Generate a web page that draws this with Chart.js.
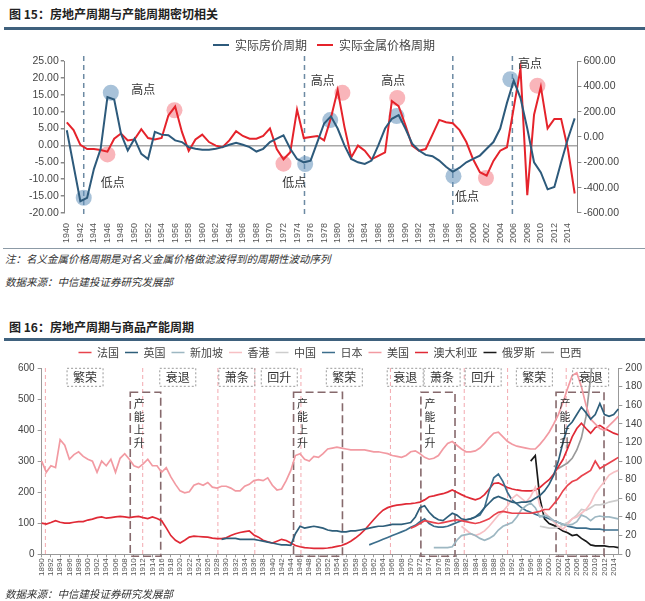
<!DOCTYPE html>
<html>
<head>
<meta charset="utf-8">
<script src="https://cdn.jsdelivr.net/npm/chart.js@4.4.1/dist/chart.umd.min.js"></script>
<style>
  body { margin: 0; width: 645px; height: 601px; background: #fff; position: relative; overflow: hidden;
         font-family: "Noto Sans CJK SC", "Liberation Sans", sans-serif; color: #222; }
  .t { position: absolute; left: 9px; font-size: 12px; font-weight: bold; line-height: 14px; white-space: nowrap; }
  .bar { position: absolute; left: 4px; width: 641px; height: 3px; background: #3f617d; }
  .n { position: absolute; left: 5px; font-size: 10.5px; font-style: italic; color: #333; line-height: 13px; white-space: nowrap; }
  .sep { position: absolute; left: 3px; width: 642px; height: 1px; background: #8c9aa6; }
  canvas { position: absolute; left: 0; }
</style>
</head>
<body>
<div class="t" style="top:7px">图 15：房地产周期与产能周期密切相关</div>
<div class="bar" style="top:27px"></div>
<canvas id="c1" width="645" height="218" style="top:29px"></canvas>
<div class="sep" style="top:248px"></div>
<div class="n" style="top:252px">注：名义金属价格周期是对名义金属价格做滤波得到的周期性波动序列</div>
<div class="n" style="top:275px">数据来源：中信建投证券研究发展部</div>
<div class="t" style="top:320px">图 16：房地产周期与商品产能周期</div>
<div class="bar" style="top:338px"></div>
<canvas id="c2" width="645" height="246" style="top:341px"></canvas>
<div class="n" style="top:587px">数据来源：中信建投证券研究发展部</div>

<script>
// ---------- 图15 数据 ----------
const firstYear1 = 1940;
// 实际房价周期 (左轴), 1940-2015
const housePrice = [
  4.5, -6, -16.5, -15.5, -7, -1, 14.3, 13.6, 3.5, -1.5,
  2, -2.5, -4, 4, 3.2, 3, 1.5, 1, -0.5, -1,
  -1.3, -1.3, -1, -0.5, 0.2, 0.8, 0.2, -0.5, -1.8, -1,
  1, 2, 3, -1, -4, -5, -4.5, 1, 6.5, 8.6,
  5, 0, -4, -5, -5.5, -4.5, 0, 5, 7.9, 9,
  5, 0.5, -1.5, -2.8, -3.2, -4.5, -6.3, -7.8, -6.6, -5,
  -4, -3, -1, 1, 5, 12.6, 19.2, 14, 5, -5,
  -8, -13, -12.3, -5, 2, 8
];
// 实际金属价格周期 (右轴), 1940-2015
const metalPrice = [
  116, 54, -62, -95, -95, -103, -116, -14, 27, -27,
  -19, 62, -8, -19, -8, 170, 240, 40, -110, -20,
  19, -40, -68, -81, -27, 46, 8, -14, -14, 8,
  68, -95, -176, -120, 216, -8, 0, 8, -27, 150,
  370, 80, -162, -68, -108, -176, -149, -122, 284, 243,
  95, -68, -108, -95, 19, 135, 116, 108, 54, -40,
  -176, -278, -305, -189, -108, -81, 230, 540, -459, 176,
  397, 68, 143, 143, -95, -446
];
// 高低点标记
const houseMarks = [[1942.5, -15.5], [1946.5, 15.6], [1975.2, -5.5], [1978.9, 7.5], [1988.7, 8.7], [1997.1, -9.1], [2005.5, 19.6]];
const metalMarks = [[1946.0, -138], [1955.9, 211], [1972.0, -211], [1980.7, 349], [1988.8, 308], [2001.9, -324], [2009.5, 405]];
const turnLines1 = [1942.5, 1975.1, 1997.0, 2005.8];
const turnNotes1 = [['高点', 1951.3, 16.5], ['低点', 1946.8, -10.9], ['高点', 1977.8, 19.3], ['低点', 1973.6, -10.9],
                    ['高点', 1988.2, 19.3], ['低点', 1999.1, -15.2], ['高点', 2008.4, 24.4]];

// ---------- 图16 数据 ----------
const firstYear2 = 1890;
const years2 = [];
for (let y = firstYear2; y <= 2015; y++) years2.push(String(y));

const france = [ // 法国, 1970-
  28, 30, 33, 36, 35, 34, 33, 34, 35, 36,
  37, 36, 35, 34, 33, 34, 36, 38, 42, 45,
  46, 45, 44, 44, 44, 44, 44, 45, 46, 48,
  48, 54, 60, 68, 74, 78, 80, 84, 87, 90,
  100, 92, 95, 98, 101, 104
];
const uk = [ // 英国, 1929-
  16,
  17, 17, 17, 16, 16, 16, 16, 15, 14, 13,
  12, 11, 10, 10, 9.5, 22, 30, 28, 29, 30,
  29, 28, 26, 25, 25, 24, 24, 25, 25, 26,
  27, 28, 29, 30, 30, 31, 32, 32, 32, 33,
  34, 40, 50, 52, 45, 40, 37, 36, 40, 44,
  42, 38, 37, 38, 40, 44, 50, 55, 60, 62,
  60, 58, 56, 55, 56, 56, 57, 60, 63, 68,
  75, 85, 100, 120, 137, 142, 150, 158, 152, 145,
  150, 162, 150, 148, 150, 156
];
const singapore = [ // 新加坡, 1975-
  7, 7, 7, 7, 8,
  15, 20, 21, 22, 20, 17, 15, 17, 20, 26,
  30, 32, 34, 40, 48, 52, 55, 50, 40, 42,
  40, 36, 34, 32, 31, 32, 35, 42, 40, 36,
  40, 41, 40, 40, 39, 38
];
const hongkong = [ // 香港, 1981-
  30, 26, 22, 20, 22, 25, 30, 36, 42,
  46, 52, 60, 64, 60, 56, 62, 72, 52, 45,
  40, 35, 30, 27, 32, 38, 40, 44, 48, 55,
  65, 72, 78, 85, 88, 90
];
const china = [ // 中国, 1998-
  30, 29, 28, 28, 29, 31, 34, 38, 42, 48, 47, 50, 53, 53, 54, 56, 57, 58
];
const japan = [ // 日本, 1961-
  10, 12, 14, 16, 18, 20, 22, 24, 26,
  29, 31, 35, 38, 33, 30, 29, 29, 30, 32,
  34, 36, 37, 38, 40, 42, 50, 68, 82, 86,
  78, 66, 58, 54, 50, 47, 45, 43, 41, 40,
  38, 36, 34, 32, 30, 29, 28, 28, 28, 27,
  27, 27, 26, 26, 26, 26
];
const usa = [ // 美国, 1890-
  100, 88, 95, 93, 123, 117, 102, 107, 110, 105,
  102, 100, 88, 100, 95, 102, 88, 103, 108, 102,
  95, 93, 97, 102, 95, 95, 88, 93, 83, 75,
  68, 66, 67, 74, 76, 74, 77, 72, 71, 73,
  73, 71, 68, 68, 73, 75, 79, 80, 79, 82,
  74, 69, 70, 79, 90, 106, 108, 102, 100, 105,
  104, 108, 113, 114, 115, 114, 113, 112, 112, 112,
  112, 111, 110, 110, 109, 108, 106, 105, 104, 106,
  110, 111, 108, 104, 102, 103, 106, 113, 119, 121,
  117, 113, 110, 110, 111, 114, 119, 125, 130, 131,
  126, 121, 118, 116, 115, 114, 113, 113, 118, 124,
  131, 140, 150, 163, 178, 192, 195, 180, 160, 145,
  140, 135, 133, 138, 143, 148
];
const australia = [ // 澳大利亚, 1890- (左轴)
  100, 97, 102, 108, 103, 100, 100, 103, 105, 105,
  110, 113, 118, 120, 116, 118, 120, 122, 120, 118,
  120, 122, 118, 115, 120, 115, 108, 85, 60, 45,
  36, 45, 55, 58, 57, 56, 55, 52, 50, 50,
  53, 60, 66, 70, 73, 75, 62, 55, 45, 40,
  36, 42, 48, 44, 36, 28, 24, 21, 20, 19,
  19, 19, 20, 22, 25, 28, 34, 42, 52, 64,
  78, 95, 112, 128, 142, 150, 155, 158, 160, 162,
  163, 165, 168, 175, 185, 188, 192, 195, 200, 207,
  200, 192, 185, 180, 175, 180, 192, 210, 228, 230,
  222, 215, 210, 207, 205, 204, 204, 206, 215, 228,
  240, 258, 282, 305, 340, 378, 405, 422, 405, 390,
  408, 415, 405, 398, 390, 385
];
const russia = [ // 俄罗斯, 1996-
  100, 106, 60, 38, 33, 31, 28, 25, 23, 20, 21, 17, 14, 10, 9, 9, 9, 8, 8, 7
];
const brazil = [ // 巴西, 2001-
  95, 92, 95, 98, 103, 112, 125, 148, 190, 240
];

const cycleLines2 = [1890.8, 1911.9, 1928.2, 1936.2, 1946.2, 1965.6, 1981.6, 1991.0, 2003.7];
const capacityBoxes = [[1909.2, 1915.8], [1944.6, 1955.2], [1972.2, 1979.6], [2001.5, 2011.9]];
const phaseNames = ['繁荣', '衰退', '萧条', '回升', '繁荣', '衰退', '萧条', '回升', '繁荣', '衰退'];
const phaseYears = [1899.4, 1919.5, 1932.3, 1941.5, 1955.6, 1968.8, 1976.8, 1985.7, 1996.8, 2009.0];

function fill(start, arr) {
  const out = years2.map(() => null);
  arr.forEach((v, i) => { out[start - firstYear2 + i] = v; });
  return out;
}

const cjk = '"Noto Sans CJK SC", sans-serif';
Chart.defaults.font.family = '"Liberation Sans", "Noto Sans CJK SC", sans-serif';
Chart.defaults.color = '#444';

// ---------- 图15 ----------
const plot1Years = housePrice.map((v, i) => firstYear1 + i);
const tickYears1 = plot1Years.filter(y => y % 2 === 0);

const notesPlugin1 = {
  id: 'notes1',
  beforeDatasetsDraw(chart) {
    const { ctx, chartArea: a, scales: { x } } = chart;
    ctx.save();
    ctx.strokeStyle = '#6c8aa3';
    ctx.lineWidth = 1.5;
    ctx.setLineDash([5, 4]);
    turnLines1.forEach(yr => {
      const px = x.getPixelForValue(yr);
      ctx.beginPath(); ctx.moveTo(px, a.top - 5); ctx.lineTo(px, a.bottom + 2); ctx.stroke();
    });
    ctx.restore();
  },
  afterDatasetsDraw(chart) {
    const { ctx, scales: { x, y } } = chart;
    ctx.save();
    ctx.font = '12px ' + cjk;
    ctx.fillStyle = '#333';
    ctx.textAlign = 'center';
    ctx.textBaseline = 'middle';
    turnNotes1.forEach(([t, yr, v]) => ctx.fillText(t, x.getPixelForValue(yr), y.getPixelForValue(v)));
    ctx.restore();
  }
};

new Chart(document.getElementById('c1'), {
  type: 'line',
  data: {
    datasets: [{
      label: '实际房价周期',
      data: housePrice.map((v, i) => ({ x: plot1Years[i], y: v })),
      borderColor: '#2d5a7b', backgroundColor: '#2d5a7b',
      borderWidth: 2, pointRadius: 0, tension: 0, yAxisID: 'y', order: 1
    }, {
      label: '实际金属价格周期',
      data: metalPrice.map((v, i) => ({ x: plot1Years[i], y: v })),
      borderColor: '#e5232b', backgroundColor: '#e5232b',
      borderWidth: 2, pointRadius: 0, tension: 0, yAxisID: 'y1', order: 1
    }, {
      type: 'scatter', label: 'house marks',
      data: houseMarks.map(([x, y]) => ({ x, y })),
      backgroundColor: 'rgba(96,143,185,0.55)', borderWidth: 0, pointRadius: 8, yAxisID: 'y', order: 2
    }, {
      type: 'scatter', label: 'metal marks',
      data: metalMarks.map(([x, y]) => ({ x, y })),
      backgroundColor: 'rgba(244,120,130,0.55)', borderWidth: 0, pointRadius: 8, yAxisID: 'y1', order: 2
    }]
  },
  options: {
    responsive: false,
    animation: false,
    layout: { padding: { left: 27, right: 24, top: 0, bottom: 2 } },
    plugins: {
      legend: {
        labels: {
          filter: item => item.datasetIndex < 2,
          boxWidth: 16, boxHeight: 0, padding: 10,
          color: '#444', font: { size: 12, family: cjk }
        }
      },
      tooltip: { enabled: false }
    },
    scales: {
      x: {
        type: 'linear', min: 1939.7, max: 2015.4,
        afterBuildTicks: axis => { axis.ticks = tickYears1.map(v => ({ value: v })); },
        grid: { display: false }, border: { display: false },
        ticks: { autoSkip: false, maxRotation: 90, minRotation: 90, padding: 2,
                 font: { size: 9 }, color: '#555', callback: v => String(v) }
      },
      y: {
        position: 'left', min: -20, max: 25,
        ticks: { stepSize: 5, padding: 2, font: { size: 10.5 }, color: '#444', callback: v => v.toFixed(2) },
        grid: { color: c => (c.tick && c.tick.value === 0 ? '#a8a8a8' : 'rgba(0,0,0,0)'),
                lineWidth: 1.5, tickColor: '#888', tickLength: 4 },
        border: { color: '#888' }
      },
      y1: {
        position: 'right', min: -600, max: 600,
        ticks: { stepSize: 200, padding: 2, font: { size: 10.5 }, color: '#444', callback: v => v.toFixed(2) },
        grid: { drawOnChartArea: false, tickColor: '#888', tickLength: 4 },
        border: { color: '#888' }
      }
    }
  },
  plugins: [notesPlugin1]
});

// ---------- 图16 ----------
const cyclePlugin2 = {
  id: 'cycles2',
  beforeDatasetsDraw(chart) {
    const { ctx, chartArea: a, scales: { x, yR } } = chart;
    ctx.save();
    ctx.strokeStyle = '#f3a9af';
    ctx.lineWidth = 1;
    ctx.setLineDash([4, 3]);
    cycleLines2.forEach(yr => {
      const px = x.getPixelForValue(yr - firstYear2);
      ctx.beginPath(); ctx.moveTo(px, a.top); ctx.lineTo(px, a.bottom); ctx.stroke();
    });
    // 产能上升 dashed boxes
    ctx.strokeStyle = '#86696c';
    ctx.lineWidth = 1.6;
    ctx.setLineDash([8, 4]);
    const topY = yR.getPixelForValue(174);
    capacityBoxes.forEach(([y0, y1]) => {
      const x0 = x.getPixelForValue(y0 - firstYear2), x1 = x.getPixelForValue(y1 - firstYear2);
      ctx.strokeRect(x0, topY, x1 - x0, a.bottom + 2 - topY);
    });
    ctx.restore();
  },
  afterDatasetsDraw(chart) {
    const { ctx, chartArea: a, scales: { x, yR } } = chart;
    ctx.save();
    ctx.font = '11px ' + cjk;
    ctx.fillStyle = '#333';
    ctx.textAlign = 'center';
    ctx.textBaseline = 'middle';
    const y0 = yR.getPixelForValue(162);
    capacityBoxes.forEach(([s]) => {
      const px = x.getPixelForValue(s - firstYear2) + 9;
      ['产', '能', '上', '升'].forEach((ch, k) => ctx.fillText(ch, px, y0 + k * 13));
    });
    // phase label boxes
    ctx.font = '12px ' + cjk;
    ctx.strokeStyle = '#999';
    ctx.lineWidth = 1;
    ctx.setLineDash([2, 2]);
    const cy = yR.getPixelForValue(190);
    phaseNames.forEach((t, i) => {
      const px = x.getPixelForValue(phaseYears[i] - firstYear2);
      const w = ctx.measureText(t).width + 12;
      ctx.strokeRect(px - w / 2, cy - 9, w, 18);
      ctx.fillText(t, px, cy);
    });
    ctx.restore();
  }
};

const series2 = [
  ['法国', fill(1970, france), '#e8434d', 'yR'],
  ['英国', fill(1929, uk), '#2e5e7a', 'yR'],
  ['新加坡', fill(1975, singapore), '#9db7c2', 'yR'],
  ['香港', fill(1981, hongkong), '#f7c0c4', 'yR'],
  ['中国', fill(1998, china), '#cdcdcd', 'yR'],
  ['日本', fill(1961, japan), '#3c6e8c', 'yR'],
  ['美国', fill(1890, usa), '#f29aa2', 'yR'],
  ['澳大利亚', fill(1890, australia), '#e02a36', 'yL'],
  ['俄罗斯', fill(1996, russia), '#1a1a1a', 'yR'],
  ['巴西', fill(2001, brazil), '#9a9a9a', 'yR']
];

new Chart(document.getElementById('c2'), {
  type: 'line',
  data: {
    labels: years2,
    datasets: series2.map(([label, data, color, axis]) => ({
      label, data, borderColor: color, backgroundColor: color,
      borderWidth: 1.7, pointRadius: 0, tension: 0, spanGaps: false, yAxisID: axis
    }))
  },
  options: {
    responsive: false,
    animation: false,
    layout: { padding: { left: 15, right: 0, top: 0, bottom: 10 } },
    plugins: {
      legend: {
        labels: { boxWidth: 13, boxHeight: 0, padding: 6, color: '#444', font: { size: 11, family: cjk } }
      },
      tooltip: { enabled: false }
    },
    scales: {
      x: {
        grid: { drawOnChartArea: false, tickColor: '#999', tickLength: 3 },
        border: { color: '#999' },
        ticks: { autoSkip: false, maxRotation: 90, minRotation: 90, padding: 1,
                 font: { size: 8 }, color: '#555',
                 callback: (v, i) => (i % 2 === 0 ? years2[i] : null) }
      },
      yL: {
        position: 'left', min: 0, max: 600,
        ticks: { stepSize: 100, padding: 3, font: { size: 10 }, color: '#444' },
        grid: { drawOnChartArea: false, tickColor: '#999', tickLength: 4 },
        border: { color: '#999' }
      },
      yR: {
        position: 'right', min: 0, max: 200,
        ticks: { stepSize: 20, padding: 3, font: { size: 10 }, color: '#444' },
        grid: { drawOnChartArea: false, tickColor: '#999', tickLength: 4 },
        border: { color: '#999' }
      }
    }
  },
  plugins: [cyclePlugin2]
});
</script>
</body>
</html>
